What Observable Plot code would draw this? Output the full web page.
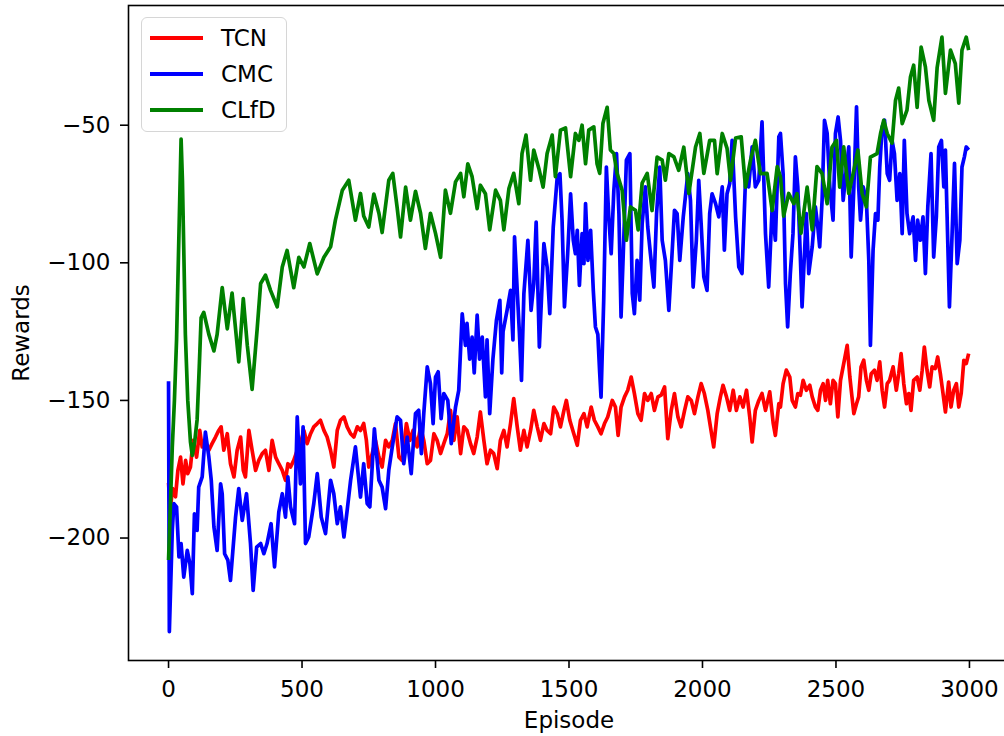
<!DOCTYPE html>
<html>
<head>
<meta charset="utf-8">
<script src="https://cdn.jsdelivr.net/npm/d3@7"></script>
<script src="https://cdn.jsdelivr.net/npm/@observablehq/plot@0.6"></script>
<style>
  html, body { margin: 0; padding: 0; background: #fff; }
  #wrap { position: relative; width: 1004px; height: 736px; overflow: hidden; font-family: "DejaVu Sans", sans-serif; }
  #chart svg { max-width: none !important; }
  #legend { position: absolute; left: 141px; top: 17px; width: 146px; height: 115px; box-sizing: border-box;
    border: 1.5px solid #d6d6d6; border-radius: 6px; background: rgba(255,255,255,0.85); }
  .item { position: absolute; left: 8px; height: 36px; display: flex; align-items: center; }
  .sw { width: 53px; height: 3.6px; margin-right: 18px; }
  .lab { font-size: 23px; color: #000; }
</style>
</head>
<body>
<div id="wrap"><div id="chart"></div><div id="legend"></div></div>
<script>
// ---- data (episode, reward) ----
const seriesNames = ["TCN", "CMC", "CLfD"];
const seriesColors = ["#ff0000", "#0000ff", "#008000"];
const xTicks = [0, 500, 1000, 1500, 2000, 2500, 3000];
const yTicks = [-200, -150, -100, -50];

const tcnPoints = [[0,-180],[6,-190],[15,-182],[26,-185],[35,-175.4],[45,-170.6],[54,-180.3],[64,-171.8],[72,-176.6],[82,-174.2],[92,-164.5],[105,-170.6],[117,-160.9],[126,-166.9],[138,-165.7],[151,-168.1],[163,-165.7],[176,-163.3],[188,-160.9],[197,-159.6],[207,-168.1],[220,-162.1],[232,-173],[245,-177.8],[257,-168.1],[270,-163.3],[280,-175.4],[288,-177.8],[301,-160.9],[313,-168.1],[326,-175.4],[338,-171.8],[351,-169.3],[363,-168.1],[376,-175.4],[388,-164.5],[401,-170.6],[413,-173],[426,-175.4],[438,-179],[447,-173],[457,-174.2],[469,-171.8],[482,-168.1],[494,-165.7],[507,-160.9],[519,-165.7],[532,-162.1],[544,-159.6],[557,-158.4],[569,-157.2],[582,-160.9],[594,-163.3],[607,-168.1],[619,-174.2],[632,-160.9],[644,-157.2],[657,-156],[669,-159.6],[682,-162.1],[694,-163.3],[707,-159.6],[719,-160.9],[731,-158.4],[741,-164.5],[750,-174.2],[763,-169.3],[775,-164.5],[788,-170.6],[800,-174.2],[813,-164.5],[825,-166.9],[838,-164.5],[850,-158.4],[863,-170.6],[875,-171.8],[891,-158.4],[904,-164.5],[916,-160.9],[931,-166.9],[944,-159.6],[956,-164.5],[969,-173],[981,-171.8],[994,-162.1],[1006,-164.5],[1019,-169.3],[1031,-165.7],[1044,-162.1],[1056,-153.6],[1069,-164.5],[1081,-156],[1094,-169.3],[1106,-159.6],[1118,-160.9],[1131,-165.7],[1143,-169.3],[1156,-163.3],[1168,-154.2],[1181,-164.5],[1193,-173],[1206,-168.1],[1218,-169.3],[1231,-174.8],[1243,-164.5],[1256,-160.9],[1268,-166.9],[1281,-158.4],[1293,-149.3],[1306,-159.6],[1318,-168.1],[1331,-160.9],[1343,-166.9],[1356,-160.9],[1368,-153.6],[1381,-159.6],[1393,-164.5],[1406,-158.4],[1418,-160.9],[1431,-162.1],[1443,-152.4],[1456,-154.8],[1468,-159.6],[1481,-153.6],[1490,-150],[1503,-157.2],[1518,-162.1],[1531,-166.3],[1543,-157.2],[1556,-154.8],[1568,-159.6],[1583,-152.4],[1595,-157.2],[1608,-159.6],[1620,-162.1],[1633,-158.4],[1645,-156],[1662,-150],[1674,-152.4],[1684,-162.7],[1695,-152.4],[1708,-148.7],[1720,-146.3],[1733,-141.5],[1745,-147.5],[1758,-154.8],[1770,-157.2],[1783,-147.5],[1795,-150],[1808,-147.5],[1820,-153.6],[1833,-148.7],[1845,-148.1],[1858,-145.1],[1870,-163.9],[1883,-153.6],[1895,-147.5],[1908,-156],[1920,-159.6],[1933,-153.6],[1945,-148.7],[1958,-150],[1970,-154.8],[1983,-148.7],[1995,-143.9],[2007,-147.5],[2020,-153.6],[2032,-160.9],[2042,-166.9],[2055,-154.8],[2067,-148.7],[2077,-144.5],[2090,-148.7],[2102,-153.6],[2115,-146.3],[2127,-153.6],[2140,-148.7],[2152,-152.4],[2165,-146.3],[2177,-156],[2186,-165.1],[2198,-153.6],[2211,-150],[2223,-147.5],[2236,-153.6],[2252,-146.9],[2265,-158.4],[2273,-162.7],[2286,-151.2],[2292,-152.4],[2302,-143.9],[2314,-139],[2327,-141.5],[2336,-150],[2348,-152.4],[2357,-147.5],[2367,-148.1],[2377,-142.7],[2389,-146.3],[2402,-144.5],[2411,-148.7],[2423,-152.4],[2432,-153.6],[2442,-146.3],[2452,-143.9],[2461,-150],[2469,-142.7],[2479,-151.2],[2489,-142.7],[2498,-143.9],[2507,-156],[2517,-142.7],[2529,-136.6],[2542,-130],[2552,-141.5],[2560,-148.7],[2567,-154.8],[2577,-151.2],[2585,-148.7],[2594,-137.8],[2604,-135.4],[2614,-142.7],[2623,-146.3],[2632,-140.3],[2644,-139],[2654,-142.7],[2664,-136],[2673,-146.3],[2682,-152.4],[2692,-143.9],[2701,-142.7],[2714,-137.8],[2726,-146.3],[2735,-140.3],[2744,-133],[2754,-143.9],[2764,-151.2],[2773,-147.5],[2781,-153.6],[2791,-142.7],[2804,-141.5],[2814,-146.3],[2823,-139],[2831,-130.6],[2841,-139],[2851,-145.1],[2860,-137.8],[2872,-138.4],[2881,-134.2],[2891,-140.3],[2901,-147.5],[2910,-154.2],[2922,-143.3],[2931,-152.4],[2941,-146.3],[2951,-143.9],[2960,-152.4],[2969,-147.5],[2979,-135.4],[2988,-136.6],[2997,-133]];

const cmcPoints = [[0,-143],[3,-234],[14,-197.2],[20,-187.5],[30,-188.7],[39,-206.9],[47,-202],[57,-214.2],[70,-204.5],[80,-209.3],[89,-220.2],[97,-191.2],[107,-197.2],[113,-181.5],[126,-177.8],[138,-161.5],[151,-170.6],[160,-179],[170,-196],[182,-204.5],[195,-180.3],[201,-183.9],[210,-205.7],[222,-208],[232,-215.4],[251,-192.4],[263,-182],[276,-193.6],[292,-183.9],[307,-202],[317,-219],[330,-203.3],[345,-202],[357,-205.7],[369,-202],[384,-194.8],[397,-210.5],[413,-190.6],[426,-183.9],[438,-192.4],[447,-177.8],[457,-188.7],[472,-194.8],[482,-156],[494,-180.3],[504,-159.6],[513,-202],[525,-199.6],[544,-187.5],[557,-176.6],[572,-192.4],[588,-198.4],[607,-179],[619,-183.9],[632,-194.8],[644,-188.7],[657,-199.6],[669,-190],[682,-179],[700,-166.9],[719,-185.1],[731,-173],[744,-187.5],[754,-188.7],[771,-160.3],[788,-179],[800,-181.5],[813,-189.3],[825,-175.4],[838,-166.9],[856,-156],[869,-157.2],[881,-173],[894,-163.3],[909,-176.6],[925,-154.8],[937,-153.6],[947,-169.3],[956,-154.8],[969,-137.8],[981,-143.9],[991,-158.4],[1000,-141.5],[1010,-139.6],[1021,-156.6],[1031,-147.5],[1046,-150],[1059,-165.7],[1075,-152.4],[1087,-146.3],[1100,-118.5],[1112,-130],[1118,-122],[1128,-135],[1137,-127],[1145,-140],[1156,-119],[1165,-135],[1175,-127],[1187,-148.7],[1193,-128],[1203,-154.8],[1215,-135],[1228,-121],[1241,-113.6],[1248,-140],[1253,-125],[1268,-117.3],[1281,-110],[1290,-128],[1296,-90.6],[1306,-110],[1314,-125],[1322,-142.7],[1331,-111.2],[1346,-91.8],[1358,-117.3],[1368,-107.6],[1377,-85.2],[1389,-130.6],[1406,-93],[1418,-101.5],[1428,-118.5],[1441,-87],[1456,-68.8],[1466,-67.6],[1474,-84.5],[1483,-116],[1495,-96.7],[1506,-74.9],[1516,-91.8],[1524,-96.7],[1531,-88.2],[1539,-108.2],[1549,-89.4],[1556,-100.3],[1562,-78.5],[1571,-99.1],[1581,-88.2],[1591,-110],[1599,-123.3],[1608,-126],[1615,-140],[1620,-148.8],[1630,-113.6],[1640,-65.2],[1649,-83.3],[1658,-96.7],[1668,-73.6],[1678,-60.3],[1687,-82.1],[1695,-119.7],[1705,-91.8],[1715,-62.7],[1728,-60.3],[1737,-111.2],[1745,-118.5],[1755,-99.1],[1765,-113.6],[1774,-85.8],[1786,-72.4],[1795,-87],[1805,-96.7],[1818,-108.8],[1828,-82.1],[1840,-65.2],[1849,-91.8],[1861,-99.1],[1874,-117.3],[1886,-96.7],[1895,-80.9],[1905,-82.1],[1915,-99.1],[1928,-83.3],[1936,-76],[1945,-67.6],[1955,-77.3],[1965,-108.8],[1977,-91.8],[1986,-70],[1995,-85.8],[2005,-105.1],[2017,-110],[2027,-82.1],[2036,-74.9],[2049,-78.5],[2061,-83.3],[2074,-72.4],[2082,-95.4],[2092,-74.9],[2102,-71.2],[2111,-55.5],[2124,-83.3],[2136,-101.5],[2148,-103.9],[2161,-70],[2173,-72.4],[2186,-57.9],[2198,-72.4],[2211,-70],[2223,-48.8],[2236,-89.4],[2248,-108.8],[2261,-79.7],[2273,-91.8],[2286,-54.2],[2292,-53],[2302,-67.6],[2311,-107.6],[2319,-123.3],[2329,-103.9],[2339,-89.4],[2348,-61.5],[2357,-72.4],[2367,-99.1],[2373,-116],[2382,-96.7],[2389,-82.1],[2398,-103.9],[2411,-94.2],[2423,-79.7],[2432,-87],[2439,-94.2],[2448,-77.3],[2457,-48.2],[2467,-53],[2477,-72.4],[2489,-84.5],[2498,-53],[2508,-47],[2517,-55.5],[2527,-77.3],[2537,-67.6],[2548,-57.9],[2557,-97.9],[2567,-72.4],[2577,-43.3],[2585,-72.4],[2592,-84.5],[2602,-72.4],[2614,-77.3],[2623,-99.1],[2629,-130],[2639,-95.4],[2648,-82.1],[2657,-84.5],[2664,-65.2],[2673,-50.6],[2682,-48.2],[2692,-67.6],[2701,-70],[2710,-55.5],[2719,-60.3],[2729,-77.3],[2739,-67.6],[2748,-89.4],[2756,-55.5],[2766,-82.1],[2776,-89.4],[2789,-83.3],[2798,-99.1],[2806,-84.5],[2816,-91.8],[2826,-83.3],[2835,-103.9],[2844,-79.7],[2856,-60.3],[2866,-97.9],[2876,-83.3],[2885,-57.9],[2895,-55.5],[2904,-72.4],[2910,-59],[2916,-82.1],[2925,-116],[2935,-89.4],[2944,-63.9],[2954,-100.3],[2964,-91.8],[2972,-65.2],[2981,-61.5],[2988,-57.9],[2997,-59]];

const clfdPoints = [[0,-208],[8,-185],[14,-167],[22,-150],[30,-128],[40,-85],[47,-55],[52,-70],[57,-95],[63,-126],[72,-150],[82,-165],[89,-170],[98,-165],[107,-157],[115,-138],[122,-120],[132,-118],[151,-126],[170,-132],[182,-126],[201,-109],[220,-124],[238,-111],[263,-136],[280,-113],[295,-130],[313,-146],[332,-124],[345,-107.5],[363,-104.5],[382,-110],[407,-116],[426,-101.5],[444,-95.5],[469,-109],[488,-98],[507,-101.5],[529,-93],[557,-104],[582,-98],[607,-94.2],[625,-84.5],[651,-73.6],[675,-70],[700,-84.5],[719,-74.8],[731,-83],[750,-87],[769,-75],[788,-82],[800,-89],[825,-70],[840,-67.5],[856,-79.7],[869,-90.6],[888,-72.5],[906,-84.5],[925,-74],[944,-82],[962,-94.8],[981,-82],[1000,-89.3],[1019,-98],[1037,-73.6],[1056,-82],[1075,-70.6],[1094,-67.5],[1106,-76],[1121,-64],[1137,-68.7],[1156,-80.3],[1168,-71.8],[1187,-74.9],[1203,-88],[1225,-73.6],[1243,-77.3],[1256,-88],[1275,-73],[1293,-67.5],[1312,-78.5],[1324,-60.3],[1339,-53.6],[1356,-70],[1368,-59],[1387,-65.7],[1403,-72.5],[1418,-60.3],[1437,-53.6],[1449,-68.7],[1468,-51.8],[1487,-51],[1506,-68.7],[1524,-53],[1537,-55.5],[1549,-50],[1562,-64],[1574,-51.8],[1593,-50.6],[1605,-64],[1615,-67.5],[1627,-49.4],[1643,-43.5],[1655,-59],[1668,-60.3],[1680,-67.5],[1699,-73.6],[1715,-91.8],[1730,-79.7],[1749,-80.9],[1759,-88],[1774,-71],[1793,-67.5],[1811,-81],[1830,-61.6],[1849,-62.7],[1861,-70],[1874,-60.3],[1893,-61.5],[1911,-66.4],[1930,-58],[1949,-74.8],[1974,-57.9],[1990,-53],[2005,-67.5],[2027,-55.5],[2045,-55.5],[2055,-67.6],[2074,-53],[2092,-58.4],[2105,-70],[2124,-54.7],[2145,-54.2],[2161,-72.5],[2180,-62.7],[2198,-55.5],[2217,-67.6],[2242,-67.5],[2261,-81],[2280,-65],[2292,-68.7],[2304,-83],[2323,-74.8],[2342,-78.5],[2354,-74.9],[2369,-89.3],[2392,-72.5],[2411,-88],[2429,-65],[2448,-67.6],[2467,-78.5],[2485,-58],[2502,-55.5],[2514,-72.5],[2529,-57.9],[2548,-74.8],[2567,-66.4],[2582,-59],[2598,-74.9],[2614,-79.7],[2629,-61.6],[2654,-60.3],[2667,-53],[2679,-48.2],[2692,-53],[2710,-56.5],[2723,-41],[2735,-36.5],[2748,-49.4],[2766,-44.5],[2779,-32.5],[2791,-28.2],[2804,-43.5],[2819,-21.6],[2835,-28.8],[2848,-41],[2866,-48.2],[2879,-29],[2897,-18],[2910,-38.4],[2929,-22.7],[2947,-27.6],[2960,-42],[2972,-22.7],[2988,-18],[2997,-22.7]];

const seriesPoints = [tcnPoints, cmcPoints, clfdPoints];

// ---- table ----
const rows = seriesPoints.flatMap((pts, i) => pts.map(([episode, reward]) => ({series: seriesNames[i], episode, reward})));

const minus = d => (d < 0 ? "\u2212" + Math.abs(d) : String(d));
const FONT = "DejaVu Sans, sans-serif";

const chart = Plot.plot({
  width: 1009,
  height: 736,
  marginLeft: 128,
  marginRight: 0,
  marginTop: 5,
  marginBottom: 76,
  style: {fontFamily: FONT, fontSize: "23px", color: "#000", background: "#fff", overflow: "visible", maxWidth: "none"},
  x: {domain: [-150, 3150]},
  y: {domain: [-244.5, -6.5]},
  color: {domain: seriesNames, range: seriesColors},
  marks: [
    ...seriesNames.map(name => Plot.lineY(rows.filter(r => r.series === name), {
      x: "episode", y: "reward", stroke: "series", strokeWidth: 3.7, strokeLinejoin: "round", strokeLinecap: "butt"
    })),
    Plot.frame({stroke: "#000", strokeWidth: 1.6}),
    Plot.axisX({ticks: xTicks, tickFormat: minus, tickSize: 8, tickPadding: 12, fontSize: 23, stroke: "#000", strokeWidth: 1.6,
      label: "Episode", labelAnchor: "center", labelOffset: 67, labelArrow: "none"}),
    Plot.axisY({ticks: yTicks, tickFormat: minus, tickSize: 8, tickPadding: 10, fontSize: 23, stroke: "#000", strokeWidth: 1.6,
      label: "Rewards", labelAnchor: "center", labelOffset: 116, labelArrow: "none"})
  ]
});
document.getElementById("chart").appendChild(chart);

// legend
const legend = document.getElementById("legend");
seriesNames.forEach((name, i) => {
  const item = document.createElement("div");
  item.className = "item";
  item.style.top = (2 + i * 36) + "px";
  const sw = document.createElement("div");
  sw.className = "sw";
  sw.style.background = seriesColors[i];
  const lab = document.createElement("span");
  lab.className = "lab";
  lab.textContent = name;
  item.appendChild(sw);
  item.appendChild(lab);
  legend.appendChild(item);
});
</script>
</body>
</html>
